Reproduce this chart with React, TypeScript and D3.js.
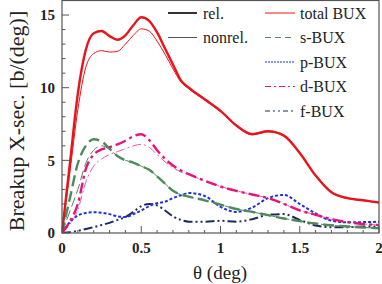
import { useEffect, useRef } from "react"
import * as d3 from "d3"

// scattering angle grid (deg)
const theta = [0, 0.05, 0.1, 0.15, 0.2, 0.25, 0.3, 0.35, 0.4, 0.45, 0.5, 0.55, 0.6, 0.65, 0.7, 0.75, 0.8, 0.9, 1.0, 1.1, 1.2, 1.3, 1.4, 1.5, 1.6, 1.7, 1.8, 1.9, 2.0]

// breakup cross sections [b/deg]
const totalRel = [0, 4.8, 9.6, 12.6, 13.75, 13.9, 13.55, 13.3, 13.6, 14.3, 14.85, 14.6, 13.8, 12.7, 11.6, 10.5, 10.0, 9.2, 8.4, 7.4, 6.8, 7.0, 6.7, 5.5, 3.95, 2.8, 2.4, 2.25, 2.1]
const totalNonrel = [0, 4.2, 8.5, 11.4, 12.35, 12.55, 12.45, 12.5, 13.0, 13.6, 14.05, 13.9, 13.2, 12.3, 11.3, 10.4, 9.92, 9.15, 8.35, 7.36, 6.77, 6.97, 6.67, 5.47, 3.93, 2.78, 2.38, 2.23, 2.08]
const sRel = [0, 2.4, 4.8, 6.0, 6.45, 6.3, 5.8, 5.3, 5.0, 4.85, 4.6, 4.35, 3.9, 3.4, 2.9, 2.65, 2.5, 2.25, 1.95, 1.65, 1.45, 1.23, 1.0, 0.82, 0.65, 0.53, 0.45, 0.38, 0.33]
const sNonrel = [0, 1.5, 3.0, 4.8, 5.7, 6.0, 5.75, 5.3, 5.0, 4.85, 4.6, 4.35, 3.9, 3.4, 2.9, 2.65, 2.5, 2.25, 1.95, 1.65, 1.45, 1.23, 1.0, 0.82, 0.65, 0.53, 0.45, 0.38, 0.33]
const pRel = [0, 0.75, 1.2, 1.38, 1.43, 1.4, 1.3, 1.15, 1.1, 1.3, 1.55, 1.85, 2.05, 2.15, 2.4, 2.6, 2.75, 2.55, 1.8, 1.45, 1.75, 2.4, 2.62, 2.0, 1.35, 0.85, 0.74, 0.75, 0.77]
const dRel = [0, 0.8, 2.0, 4.4, 5.4, 5.75, 5.9, 6.1, 6.35, 6.65, 6.8, 6.4, 5.7, 5.1, 4.65, 4.3, 4.05, 3.6, 3.2, 2.9, 2.65, 2.4, 2.0, 1.55, 1.25, 0.95, 0.75, 0.62, 0.55]
const dNonrel = [0, 0.6, 1.6, 3.5, 4.6, 5.1, 5.4, 5.6, 5.8, 6.0, 6.1, 5.9, 5.4, 4.9, 4.5, 4.2, 4.0, 3.6, 3.2, 2.9, 2.65, 2.4, 2.0, 1.55, 1.25, 0.95, 0.75, 0.62, 0.55]
const fRel = [0, 0.05, 0.15, 0.28, 0.4, 0.55, 0.7, 0.9, 1.1, 1.45, 1.85, 2.0, 1.9, 1.55, 1.15, 0.9, 0.78, 0.78, 0.84, 0.78, 0.95, 1.25, 1.3, 0.9, 0.52, 0.4, 0.4, 0.44, 0.45]

const xTicks = [0, 0.5, 1, 1.5, 2]
const yTicks = [0, 5, 10, 15]

const legendLeft = ["rel.", "nonrel."]
const legendRight = ["total BUX", "s-BUX", "p-BUX", "d-BUX", "f-BUX"]

const RED = "#e8141c"
const GREEN = "#4e8a5c"
const BLUE = "#1f2fe6"
const MAGENTA = "#e6137a"
const NAVY = "#1d2b5c"

interface Curve {
  values: number[]
  color: string
  width: number
  dash: string | null
}

export default function App() {
  const svgRef = useRef<SVGSVGElement>(null)

  useEffect(() => {
    document.body.style.margin = "0"
    if (!svgRef.current) return
    const svg = d3.select(svgRef.current)
    svg.selectAll("*").remove()

    const width = 382
    const height = 284
    const x = d3.scaleLinear().domain([0, 2]).range([62, 379])
    const y = d3.scaleLinear().domain([0, 16]).range([233, 0.5])
    const font = "Liberation Serif, Times New Roman, Times, DejaVu Serif, serif"

    svg
      .attr("width", width)
      .attr("height", height)
      .attr("font-family", font)
      .style("background", "#fff")

    const curves: Curve[] = [
      { values: fRel, color: NAVY, width: 2, dash: "9,3,2,3,2,3" },
      { values: pRel, color: BLUE, width: 2, dash: "3,2" },
      { values: sNonrel, color: GREEN, width: 1, dash: "10,4" },
      { values: sRel, color: GREEN, width: 2.4, dash: "11,5" },
      { values: dNonrel, color: "#ee5ba0", width: 1, dash: "9,3,2,3" },
      { values: dRel, color: MAGENTA, width: 2.4, dash: "11,4,3,4" },
      { values: totalNonrel, color: RED, width: 1, dash: null },
      { values: totalRel, color: RED, width: 2.4, dash: null },
    ]

    const line = d3
      .line<number>()
      .x((_, i) => x(theta[i]))
      .y((d) => y(d))
      .curve(d3.curveMonotoneX)

    svg
      .append("clipPath")
      .attr("id", "clip")
      .append("rect")
      .attr("x", 62)
      .attr("y", 0)
      .attr("width", 317)
      .attr("height", 233)

    const lines = svg.append("g").attr("clip-path", "url(#clip)")
    curves.forEach((c) => {
      lines
        .append("path")
        .attr("d", line(c.values))
        .attr("fill", "none")
        .attr("stroke", c.color)
        .attr("stroke-width", c.width)
        .attr("stroke-dasharray", c.dash)
    })

    // frame
    svg
      .append("rect")
      .attr("x", 62)
      .attr("y", 0.5)
      .attr("width", 317)
      .attr("height", 232.5)
      .attr("fill", "none")
      .attr("stroke", "#555")
      .attr("stroke-width", 1.2)

    // minor + major ticks pointing inward
    const xMinor = d3.range(0, 2.001, 0.1)
    const yMinor = d3.range(0, 16, 1)
    const axes = svg.append("g").attr("stroke", "#555").attr("stroke-width", 1)
    axes
      .selectAll(".xm")
      .data(xMinor)
      .enter()
      .append("line")
      .attr("x1", (d) => x(d))
      .attr("x2", (d) => x(d))
      .attr("y1", 233)
      .attr("y2", (d) => (xTicks.some((t) => Math.abs(t - d) < 1e-6) ? 226 : 230))
    axes
      .selectAll(".ym")
      .data(yMinor)
      .enter()
      .append("line")
      .attr("y1", (d) => y(d))
      .attr("y2", (d) => y(d))
      .attr("x1", 62)
      .attr("x2", (d) => (yTicks.includes(d) ? 69 : 65.5))

    svg
      .append("g")
      .selectAll("text")
      .data(xTicks)
      .enter()
      .append("text")
      .attr("x", (d) => x(d))
      .attr("y", 253)
      .attr("text-anchor", "middle")
      .attr("font-size", 15)
      .attr("font-weight", "bold")
      .attr("fill", "#222")
      .text((d) => d3.format("")(d))

    svg
      .append("g")
      .selectAll("text")
      .data(yTicks)
      .enter()
      .append("text")
      .attr("x", 55)
      .attr("y", (d) => y(d))
      .attr("dy", "0.35em")
      .attr("text-anchor", "end")
      .attr("font-size", 15)
      .attr("font-weight", "bold")
      .attr("fill", "#222")
      .text((d) => d)

    // axis titles
    svg
      .append("text")
      .attr("x", 220)
      .attr("y", 279)
      .attr("text-anchor", "middle")
      .attr("font-size", 19)
      .attr("fill", "#222")
      .text("θ (deg)")

    svg
      .append("text")
      .attr("transform", "translate(24,121) rotate(-90)")
      .attr("text-anchor", "middle")
      .attr("font-size", 22)
      .attr("fill", "#222")
      .text("Breakup X-sec. [b/(deg)]")

    // legend
    const rowY = (i: number) => 13 + i * 24.5
    const leftStyles = [
      { color: "#333", width: 2 },
      { color: "#555", width: 1 },
    ]
    legendLeft.forEach((label, i) => {
      svg
        .append("line")
        .attr("x1", 168)
        .attr("x2", 197)
        .attr("y1", rowY(i))
        .attr("y2", rowY(i))
        .attr("stroke", leftStyles[i].color)
        .attr("stroke-width", leftStyles[i].width)
      svg
        .append("text")
        .attr("x", 203)
        .attr("y", rowY(i))
        .attr("dy", "0.35em")
        .attr("font-size", 16)
        .attr("fill", "#222")
        .text(label)
    })

    const rightStyles = [
      { color: RED, dash: null },
      { color: GREEN, dash: "6,4" },
      { color: BLUE, dash: "2,1" },
      { color: MAGENTA, dash: "6,3,2,3" },
      { color: NAVY, dash: "5,3,2,3,2,3" },
    ]
    legendRight.forEach((label, i) => {
      svg
        .append("line")
        .attr("x1", 265)
        .attr("x2", 295)
        .attr("y1", rowY(i))
        .attr("y2", rowY(i))
        .attr("stroke", rightStyles[i].color)
        .attr("stroke-width", 1)
        .attr("stroke-dasharray", rightStyles[i].dash)
      svg
        .append("text")
        .attr("x", 300)
        .attr("y", rowY(i))
        .attr("dy", "0.35em")
        .attr("font-size", 16)
        .attr("fill", "#222")
        .text(label)
    })
  }, [])

  return <svg ref={svgRef} style={{ display: "block" }}></svg>
}
